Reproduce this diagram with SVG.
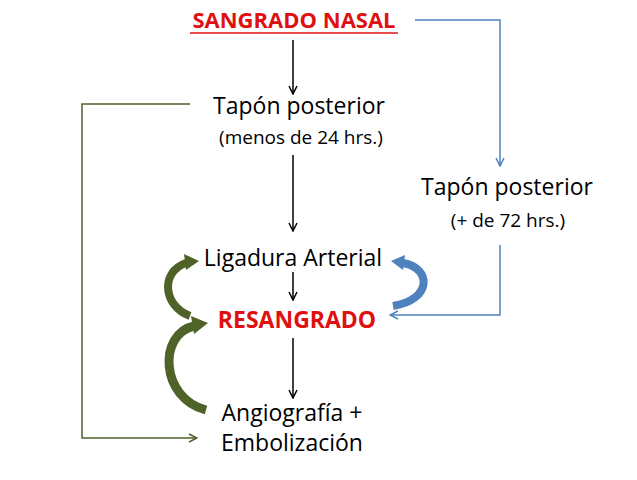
<svg xmlns="http://www.w3.org/2000/svg" width="637" height="480" viewBox="0 0 637 480">
<style>
text{font-family:"Open Sans","Liberation Sans",sans-serif;font-size:23px;fill:#000;text-anchor:middle}
.red{fill:#e01010;font-weight:bold}
.s{font-size:19px}
.k{stroke:#000;stroke-width:1.5;fill:none}
.g{stroke:#4f6228;stroke-width:1.5;fill:none}
.b{stroke:#4f81bd;stroke-width:1.5;fill:none}
</style>
<defs>
<marker id="mk" markerWidth="10" markerHeight="10" refX="9" refY="5" orient="auto" markerUnits="userSpaceOnUse"><path d="M1,1 L9,5 L1,9" fill="none" stroke="#000" stroke-width="1.5"/></marker>
<marker id="mg" markerWidth="10" markerHeight="10" refX="9" refY="5" orient="auto" markerUnits="userSpaceOnUse"><path d="M1,1 L9,5 L1,9" fill="none" stroke="#4f6228" stroke-width="1.5"/></marker>
<marker id="mb" markerWidth="10" markerHeight="10" refX="9" refY="5" orient="auto" markerUnits="userSpaceOnUse"><path d="M1,1 L9,5 L1,9" fill="none" stroke="#4f81bd" stroke-width="1.5"/></marker>
</defs>
<rect width="637" height="480" fill="#fff"/>
<g id="n1"><text x="294" y="28" class="red" style="font-size:22px">SANGRADO NASAL</text><line x1="190" y1="33" x2="398" y2="33" stroke="#e01010" stroke-width="1.5"/></g>
<g id="n2"><text x="299" y="114">Tapón posterior</text><text x="301" y="144" class="s">(menos de 24 hrs.)</text></g>
<g id="n3"><text x="507" y="195">Tapón posterior</text><text x="508" y="227" class="s">(+ de 72 hrs.)</text></g>
<g id="n4"><text x="293" y="266">Ligadura Arterial</text></g>
<g id="n5"><text x="297" y="328" class="red">RESANGRADO</text></g>
<g id="n6"><text x="292" y="421">Angiografía +</text><text x="292" y="451">Embolización</text></g>
<g id="connectors">
<line class="k" x1="293" y1="40" x2="293" y2="94" marker-end="url(#mk)"/>
<line class="k" x1="293" y1="155" x2="293" y2="231" marker-end="url(#mk)"/>
<line class="k" x1="293" y1="272" x2="293" y2="300" marker-end="url(#mk)"/>
<line class="k" x1="293" y1="338" x2="293" y2="398" marker-end="url(#mk)"/>
<polyline class="g" points="190,104 82,104 82,438 197,438" marker-end="url(#mg)"/>
<polyline class="b" points="415,20 500,20 500,166" marker-end="url(#mb)"/>
<polyline class="b" points="500,245 500,315 390,315" marker-end="url(#mb)"/>
<path d="M190,316 C163,306 160,272 186,263" stroke="#4f6228" stroke-width="8" fill="none"/>
<polygon points="184,254 199,261 186,270" fill="#4f6228"/>
<path d="M206,410 C160,398 158,334 194,326" stroke="#4f6228" stroke-width="9" fill="none"/>
<polygon points="191,316 208,323 194,334" fill="#4f6228"/>
<path d="M393,306 C432,300 432,268 403,263" stroke="#4f81bd" stroke-width="8" fill="none"/>
<polygon points="405,255 391,261 403,270" fill="#4f81bd"/>
</g>
</svg>
